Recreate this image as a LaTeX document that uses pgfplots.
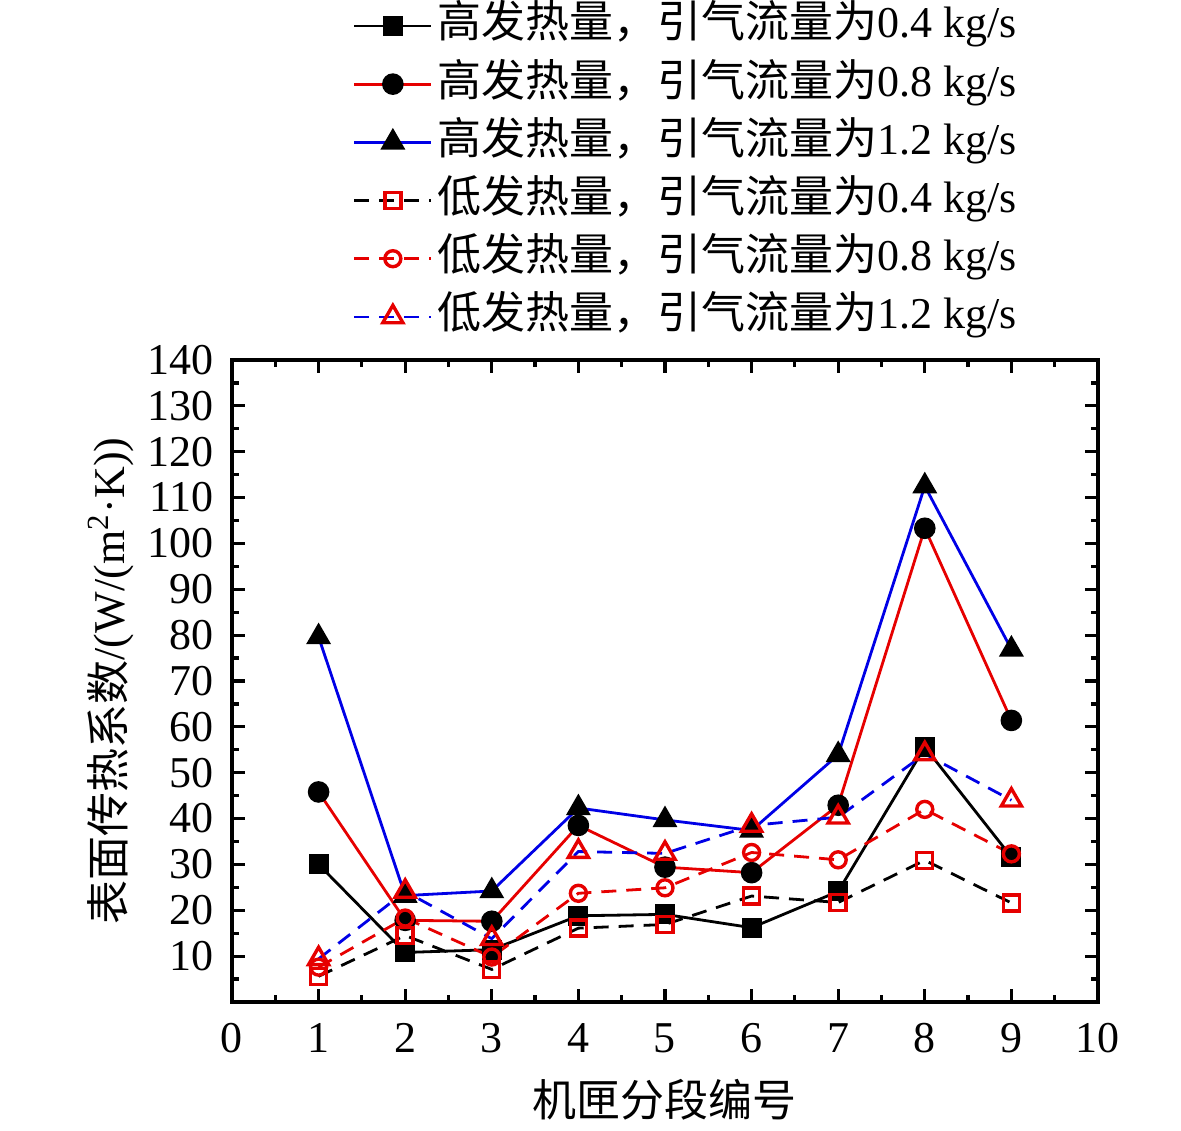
\documentclass[border=0pt]{standalone}
\usepackage{fontspec}
\setmainfont{Liberation Serif}
\newfontfamily\cjk{Noto Sans CJK SC}
\usepackage{pgfplots}
\pgfplotsset{compat=1.18}
\definecolor{cred}{RGB}{230,0,0}
\definecolor{cblue}{RGB}{0,0,230}
\begin{document}
\fontsize{11}{13}\selectfont
\begin{tikzpicture}
\begin{axis}[
  scale only axis,
  width=216.5pt, height=160.5pt,
  xmin=0, xmax=10, ymin=0, ymax=140,
  xtick={0,1,...,10},
  ytick={10,20,...,140},
  minor xtick={0.5,1.5,...,9.5},
  minor ytick={5,15,...,135},
  tick align=inside,
  major tick length=3.25pt,
  minor tick length=1.75pt,
  axis line style={line width=0.8pt},
  every tick/.style={black, line width=0.8pt},
  /pgf/number format/assume math mode=true,
  tick label style={font=\fontsize{11}{13}\selectfont},
  xticklabel style={yshift=-1.3pt},
  yticklabel style={xshift=-0.6pt},
  xlabel={{\cjk 机匣分段编号}},
  ylabel={{\cjk 表面传热系数}/(W/(m\textsuperscript{2}·K))},
  xlabel style={at={(axis description cs:0.5,-0.1526)}, anchor=center, font=\fontsize{11}{13}\selectfont},
  ylabel style={at={(axis description cs:-0.1397,0.5)}, anchor=center, font=\fontsize{11}{13}\selectfont},
  legend cell align=left,
  legend style={draw=none, fill=none, inner sep=0pt, outer sep=0pt,
    at={(axis description cs:0.1397,1.554)}, anchor=north west,
    row sep=3.75pt,
    nodes={inner sep=0pt, text height=8.4pt, text depth=2.4pt, font=\fontsize{11}{13}\selectfont},
    /tikz/every odd column/.append style={column sep=1.2pt}},
  legend image code/.code={\draw[mark repeat=2,mark phase=2,#1] plot coordinates {(0pt,0pt) (9.625pt,0pt) (19.25pt,0pt)};},
  line width=0.7pt,
]
\addplot[black, solid, mark=square*, mark size=2.15pt, mark options={solid, fill=black, draw=black}] coordinates {
(1,30.0) (2,10.8) (3,11.4) (4,18.8) (5,19.1) (6,16.2) (7,24.1) (8,55.6) (9,31.6)};
\addlegendentry{{\cjk 高发热量，引气流量为}0.4 kg/s}
\addplot[cred, solid, mark=*, mark size=2.35pt, mark options={solid, fill=black, draw=black}] coordinates {
(1,45.8) (2,17.8) (3,17.6) (4,38.5) (5,29.4) (6,28.2) (7,42.9) (8,103.3) (9,61.4)};
\addlegendentry{{\cjk 高发热量，引气流量为}0.8 kg/s}
\addplot[cblue, solid, mark=triangle*, mark size=2.9pt, mark options={solid, fill=black, draw=black}] coordinates {
(1,79.6) (2,23.2) (3,24.2) (4,42.3) (5,39.7) (6,37.4) (7,53.9) (8,112.5) (9,76.9)};
\addlegendentry{{\cjk 高发热量，引气流量为}1.2 kg/s}
\addplot[black, dash pattern=on 3.75pt off 2.5pt, mark=square, mark size=2pt, mark options={solid, draw=cred, line width=0.85pt}] coordinates {
(1,5.6) (2,14.5) (3,7.1) (4,16.1) (5,16.9) (6,23.1) (7,21.7) (8,30.9) (9,21.6)};
\addlegendentry{{\cjk 低发热量，引气流量为}0.4 kg/s}
\addplot[cred, dash pattern=on 3.75pt off 2.5pt, mark=o, mark size=2pt, mark options={solid, draw=cred, line width=0.85pt}] coordinates {
(1,7.6) (2,18.3) (3,9.8) (4,23.7) (5,24.9) (6,32.6) (7,31.0) (8,42.0) (9,32.3)};
\addlegendentry{{\cjk 低发热量，引气流量为}0.8 kg/s}
\addplot[cblue, dash pattern=on 3.75pt off 2.5pt, mark=triangle, mark size=2.9pt, mark options={solid, draw=cred, line width=0.85pt}] coordinates {
(1,9.4) (2,24.1) (3,13.8) (4,32.8) (5,32.4) (6,38.5) (7,40.3) (8,54.1) (9,44.0)};
\addlegendentry{{\cjk 低发热量，引气流量为}1.2 kg/s}
\end{axis}
\pgfresetboundingbox
\path ([xshift=-58pt,yshift=-32.25pt]current axis.south west) rectangle ([xshift=20.75pt,yshift=90pt]current axis.north east);
\end{tikzpicture}
\end{document}
